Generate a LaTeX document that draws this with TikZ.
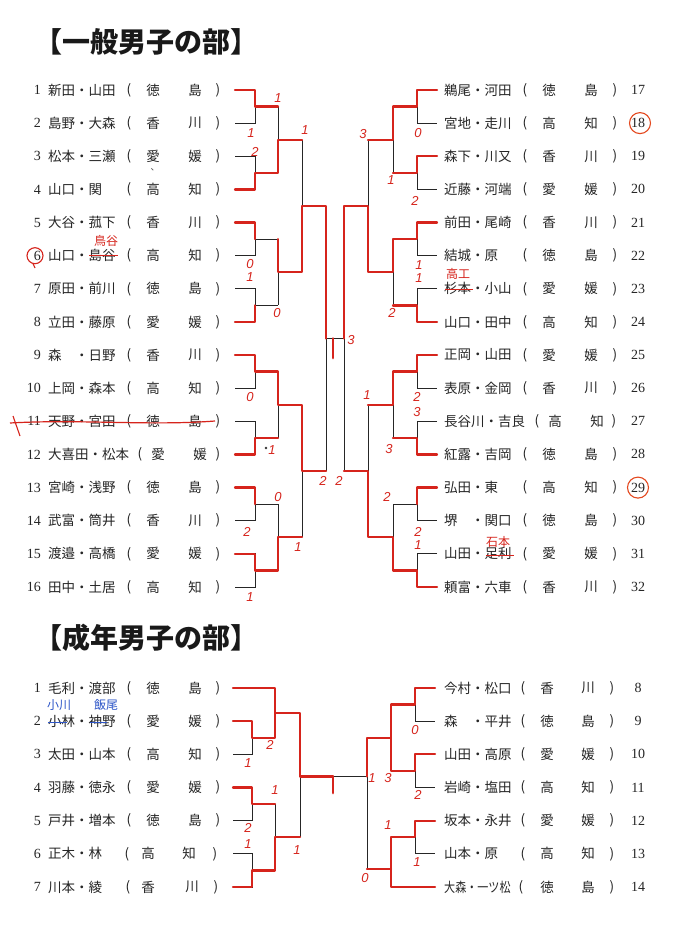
\documentclass[tikz,border=0pt]{standalone}
\usepackage{fontspec}
\setmainfont{Noto Sans CJK JP}
\newfontfamily\numfont{Liberation Serif}
\newfontfamily\hwfont{Liberation Sans}
\definecolor{hred}{RGB}{214,36,28}
\definecolor{hcirc}{RGB}{228,72,30}
\definecolor{hblue}{RGB}{45,85,200}
\tikzset{
 blk/.style={draw=black!85, line width=0.9pt},
 rl/.style={draw=hred, line width=2.3pt, line join=round, line cap=round},
 nm/.style={inner sep=0pt, font=\fontsize{13.5}{14}\selectfont, text=black!85},
 num/.style={inner sep=0pt, font=\numfont\fontsize{14}{14}\selectfont, text=black!85},
 sc/.style={inner sep=0pt, font=\hwfont\itshape\fontsize{13}{13}\selectfont, text=hred},
 ann/.style={inner sep=0pt, font=\fontsize{12}{12}\selectfont},
 ttl/.style={inner sep=0pt, anchor=west, font=\bfseries\fontsize{28}{28}\selectfont, text=black!90},
}
\def\LPa{129}\def\LPb{153}\def\LPc{195}\def\LPd{218}
\def\RPa{525}\def\RPb{549}\def\RPc{591}\def\RPd{615}
\newcommand{\Lrow}[6]{%
 \node[num,anchor=east] (ln#1) at (41,#2) {#3};
 \node[nm,anchor=west] (lm#1) at (48,#2) {#4};
 \node[nm] (lo#1) at (\LPa,#2) {(};
 \node[nm] (lp#1) at (\LPb,#2) {#5};
 \node[nm] (lq#1) at (\LPc,#2) {#6};
 \node[nm] (lc#1) at (\LPd,#2) {)};}
\newcommand{\Rrow}[6]{%
 \node[nm,anchor=west] (rm#1) at (444,#2) {#4};
 \node[nm] (ro#1) at (\RPa,#2) {(};
 \node[nm] (rp#1) at (\RPb,#2) {#5};
 \node[nm] (rq#1) at (\RPc,#2) {#6};
 \node[nm] (rc#1) at (\RPd,#2) {)};
 \node[num] (rn#1) at (638,#2) {#3};}
\begin{document}
\begin{tikzpicture}[x=1pt,y=-1pt]
\fill[white] (0,0) rectangle (682,948);
\useasboundingbox (0,0) rectangle (682,948);
% titles
\node[ttl] (t1) at (34,42) {【一般男子の部】};
\node[ttl] (t2) at (34,638) {【成年男子の部】};
% top left rows
\Lrow{a1}{90.0}{1}{新田・山田}{徳}{島}
\Lrow{a2}{123.1}{2}{島野・大森}{香}{川}
\Lrow{a3}{156.3}{3}{松本・三瀬}{愛}{媛}
\Lrow{a4}{189.4}{4}{山口・関}{高}{知}
\Lrow{a5}{222.5}{5}{大谷・菰下}{香}{川}
\Lrow{a6}{255.7}{6}{山口・島谷}{高}{知}
\Lrow{a7}{288.8}{7}{原田・前川}{徳}{島}
\Lrow{a8}{321.9}{8}{立田・藤原}{愛}{媛}
\Lrow{a9}{355.0}{9}{森　・日野}{香}{川}
\Lrow{a10}{388.2}{10}{上岡・森本}{高}{知}
\Lrow{a11}{421.3}{11}{天野・宮田}{徳}{島}
{\def\LPa{140}\def\LPb{158}\def\LPc{200}\Lrow{a12}{454.4}{12}{大喜田・松本}{愛}{媛}}
\Lrow{a13}{487.6}{13}{宮崎・浅野}{徳}{島}
\Lrow{a14}{520.7}{14}{武富・筒井}{香}{川}
\Lrow{a15}{553.8}{15}{渡邉・高橋}{愛}{媛}
\Lrow{a16}{587.0}{16}{田中・土居}{高}{知}
% top right rows
\Rrow{a17}{90.0}{17}{鵜尾・河田}{徳}{島}
\Rrow{a18}{123.1}{18}{宮地・走川}{高}{知}
\Rrow{a19}{156.3}{19}{森下・川又}{香}{川}
\Rrow{a20}{189.4}{20}{近藤・河端}{愛}{媛}
\Rrow{a21}{222.5}{21}{前田・尾崎}{香}{川}
\Rrow{a22}{255.7}{22}{結城・原}{徳}{島}
\Rrow{a23}{288.8}{23}{杉本・小山}{愛}{媛}
\Rrow{a24}{321.9}{24}{山口・田中}{高}{知}
\Rrow{a25}{355.0}{25}{正岡・山田}{愛}{媛}
\Rrow{a26}{388.2}{26}{表原・金岡}{香}{川}
{\def\RPa{537}\def\RPb{555}\def\RPc{597}\def\RPd{614}\Rrow{a27}{421.3}{27}{長谷川・吉良}{高}{知}}
\Rrow{a28}{454.4}{28}{紅露・吉岡}{徳}{島}
\Rrow{a29}{487.6}{29}{弘田・東}{高}{知}
\Rrow{a30}{520.7}{30}{堺　・関口}{徳}{島}
\Rrow{a31}{553.8}{31}{山田・足利}{愛}{媛}
\Rrow{a32}{587.0}{32}{頼富・六車}{香}{川}
% bottom left rows
\Lrow{b1}{688.0}{1}{毛利・渡部}{徳}{島}
\Lrow{b2}{721.2}{2}{小林・神野}{愛}{媛}
\Lrow{b3}{754.3}{3}{太田・山本}{高}{知}
\Lrow{b4}{787.5}{4}{羽藤・徳永}{愛}{媛}
\Lrow{b5}{820.7}{5}{戸井・増本}{徳}{島}
{\def\LPa{127}\def\LPb{148}\def\LPc{189}\def\LPd{215}\Lrow{b6}{853.8}{6}{正木・林}{高}{知}}
{\def\LPa{128}\def\LPb{148}\def\LPc{192}\def\LPd{216}\Lrow{b7}{887.0}{7}{川本・綾}{香}{川}}
% bottom right rows
{\def\RPa{523}\def\RPb{547}\def\RPc{588}\def\RPd{612}
\Rrow{b8}{688.0}{8}{今村・松口}{香}{川}
\Rrow{b9}{721.2}{9}{森　・平井}{徳}{島}
\Rrow{b10}{754.3}{10}{山田・高原}{愛}{媛}
\Rrow{b11}{787.5}{11}{岩崎・塩田}{高}{知}
\Rrow{b12}{820.7}{12}{坂本・永井}{愛}{媛}
\Rrow{b13}{853.8}{13}{山本・原}{高}{知}
\def\RPa{521}\Rrow{b14}{887.0}{14}{\scalebox{0.82}[1]{大森・一ツ松}}{徳}{島}}
% ---- top bracket, black
\foreach \k in {0,...,7}{
  \pgfmathsetmacro\ya{90+2*\k*33.13}
  \pgfmathsetmacro\yb{\ya+33.13}
  \pgfmathsetmacro\ym{\ya+16.565}
  \draw[blk] (235,\ya) -| (255,\yb) -- (235,\yb) (255,\ym) -- (278,\ym);
  \draw[blk] (437,\ya) -| (417,\yb) -- (437,\yb) (417,\ym) -- (393,\ym);
}
\foreach \k in {0,...,3}{
  \pgfmathsetmacro\ya{106.565+2*\k*66.26}
  \pgfmathsetmacro\yb{\ya+66.26}
  \pgfmathsetmacro\ym{\ya+33.13}
  \draw[blk] (278,\ya) -- (278,\yb) (278,\ym) -- (302,\ym);
  \draw[blk] (393,\ya) -- (393,\yb) (393,\ym) -- (368,\ym);
}
\foreach \k in {0,1}{
  \pgfmathsetmacro\ya{139.7+2*\k*132.52}
  \pgfmathsetmacro\yb{\ya+132.52}
  \pgfmathsetmacro\ym{\ya+66.26}
  \draw[blk] (302,\ya) -- (302,\yb) (302,\ym) -- (326,\ym);
  \draw[blk] (368,\ya) -- (368,\yb) (368,\ym) -- (344,\ym);
}
\draw[blk] (326,205.96) -- (326,471) (344,205.96) -- (344,471) (326,338.5) -- (344,338.5);
% ---- top bracket, red
\draw[rl] (235,90) -| (255,106.57) -- (278,106.57);
\draw[rl] (235,189.4) -| (255,172.83) -- (278,172.83) -- (278,139.7) -- (302,139.7);
\draw[rl] (235,222.5) -| (255,239.09);
\draw[rl] (278,239.09) -- (278,272.22) -- (302,272.22) -- (302,205.96) -- (326,205.96) -- (326,338.5);
\draw[rl] (235,321.9) -| (255,305.35);
\draw[rl] (235,355) -| (255,371.61) -- (278,371.61) -- (278,404.74) -- (302,404.74) -- (302,471) -- (326,471);
\draw[rl] (235,454.4) -| (255,437.87) -- (278,437.87);
\draw[rl] (235,487.6) -| (255,504.13);
\draw[rl] (235,553.8) -| (255,570.39) -- (278,570.39) -- (278,537.26) -- (302,537.26);
\draw[rl] (437,90) -| (417,106.57) -- (393,106.57) -- (393,139.7) -- (368,139.7);
\draw[rl] (437,156.3) -| (417,172.83) -- (393,172.83);
\draw[rl] (437,222.5) -| (417,239.09) -- (393,239.09) -- (393,272.22) -- (368,272.22) -- (368,205.96) -- (344,205.96) -- (344,338.5);
\draw[rl] (437,321.9) -| (417,305.35) -- (393,305.35);
\draw[rl] (437,355) -| (417,371.61) -- (393,371.61) -- (393,404.74) -- (368,404.74);
\draw[rl] (437,454.4) -| (417,437.87) -- (393,437.87);
\draw[rl] (437,487.6) -| (417,504.13);
\draw[rl] (437,587) -| (417,570.39) -- (393,570.39) -- (393,537.26) -- (368,537.26) -- (368,471) -- (344,471);
\draw[rl, line width=2.8pt] (333,338.5) -- (333,358);
% ---- bottom bracket, black
\draw[blk] (233,688) -- (275,688);
\draw[blk] (233,721.2) -| (252,754.3) -- (233,754.3) (252,737.7) -- (275,737.7);
\draw[blk] (275,688) -- (275,737.7) (275,712.9) -- (300,712.9);
\draw[blk] (233,787.5) -| (252,820.7) -- (233,820.7) (252,804.1) -- (275,804.1);
\draw[blk] (233,853.8) -| (252,887) -- (233,887) (252,870.4) -- (275,870.4);
\draw[blk] (275,804.1) -- (275,870.4) (275,837.2) -- (300,837.2);
\draw[blk] (300,712.9) -- (300,837.2) (300,776.5) -- (367,776.5);
\draw[blk] (435,688) -| (415,721.2) -- (435,721.2) (415,704.6) -- (391,704.6);
\draw[blk] (435,754.3) -| (415,787.5) -- (435,787.5) (415,770.9) -- (391,770.9);
\draw[blk] (391,704.6) -- (391,770.9) (391,737.7) -- (367,737.7);
\draw[blk] (435,820.7) -| (415,853.8) -- (435,853.8) (415,837.2) -- (391,837.2);
\draw[blk] (435,887) -- (391,887);
\draw[blk] (391,837.2) -- (391,887) (391,869) -- (367,869);
\draw[blk] (367,737.7) -- (367,869);
% ---- bottom bracket, red
\draw[rl] (233,688) -- (275,688) -- (275,712.9) -- (300,712.9) -- (300,776.5) -- (333,776.5);
\draw[rl, line width=2.8pt] (333,776.5) -- (333,793);
\draw[rl] (233,721.2) -| (252,737.7) -- (275,737.7) -- (275,712.9);
\draw[rl] (233,787.5) -| (252,804.1) -- (275,804.1);
\draw[rl] (233,887) -| (252,870.4) -- (275,870.4) -- (275,837.2) -- (300,837.2);
\draw[rl] (435,688) -| (415,704.6) -- (391,704.6) -- (391,737.7) -- (367,737.7) -- (367,776.5);
\draw[rl] (435,754.3) -| (415,770.9) -- (391,770.9) -- (391,737.7);
\draw[rl] (435,820.7) -| (415,837.2) -- (391,837.2) -- (391,887) -- (435,887);
\draw[rl] (391,869) -- (367,869);
% ---- handwritten scores
\foreach \x/\y/\t [count=\i] in {278/98/1, 305/130/1, 251/133/1, 255/152/2, 250/264/0, 250/277/1, 277/313/0, 250/397/0, 272/450/1, 323/481/2, 339/481/2, 278/497/0, 247/532/2, 298/547/1, 250/597/1, 363/134/3, 418/133/0, 391/180/1, 415/201/2, 419/265/1, 419/278/1, 392/313/2, 351/340/3, 367/395/1, 417/397/2, 417/412/3, 389/449/3, 387/497/2, 418/532/2, 418/545/1, 270/745/2, 248/763/1, 275/790/1, 248/828/2, 248/844/1, 297/850/1, 415/730/0, 372/778/1, 388/778/3, 418/795/2, 388/825/1, 417/862/1, 365/878/0}
  \node[sc] (sc\i) at (\x,\y) {\t};
\fill[black!80] (266,448) circle (1.3);
% ---- annotations
\draw[hred, line width=1.1pt] (35,255.7) circle (8);
\draw[hred, line width=1.1pt] (33,263.5) -- (35,268);
\node[ann, text=hred] (an1) at (106,241) {鳥谷};
\draw[hred, line width=0.9pt] (89,255) -- (118,255);
\draw[hred, line width=1.2pt] (10,423) .. controls (80,419) and (150,426) .. (215,421);
\draw[hred, line width=1.1pt] (13,416) -- (20,436);
\node[ann, text=hred] (an2) at (458,274) {高工};
\draw[hred, line width=0.9pt] (445,289) -- (473,289);
\node[ann, text=hred] (an3) at (498,542) {石本};
\draw[hred, line width=0.9pt] (486,555) -- (514,555);
\draw[hcirc, line width=1.1pt] (640,123.1) circle (10.5);
\draw[hcirc, line width=1.1pt] (638,487.6) circle (10.5);
\node[inner sep=0pt, font=\fontsize{9}{9}\selectfont, text=black!70] (dot3) at (155,170) {、};
\node[ann, text=hblue] (an4) at (59,705) {小川};
\node[ann, text=hblue] (an5) at (106,705) {飯尾};
\draw[hblue, line width=0.8pt] (48,722) -- (67,722) (90,722) -- (107,722);
\end{tikzpicture}
\end{document}
